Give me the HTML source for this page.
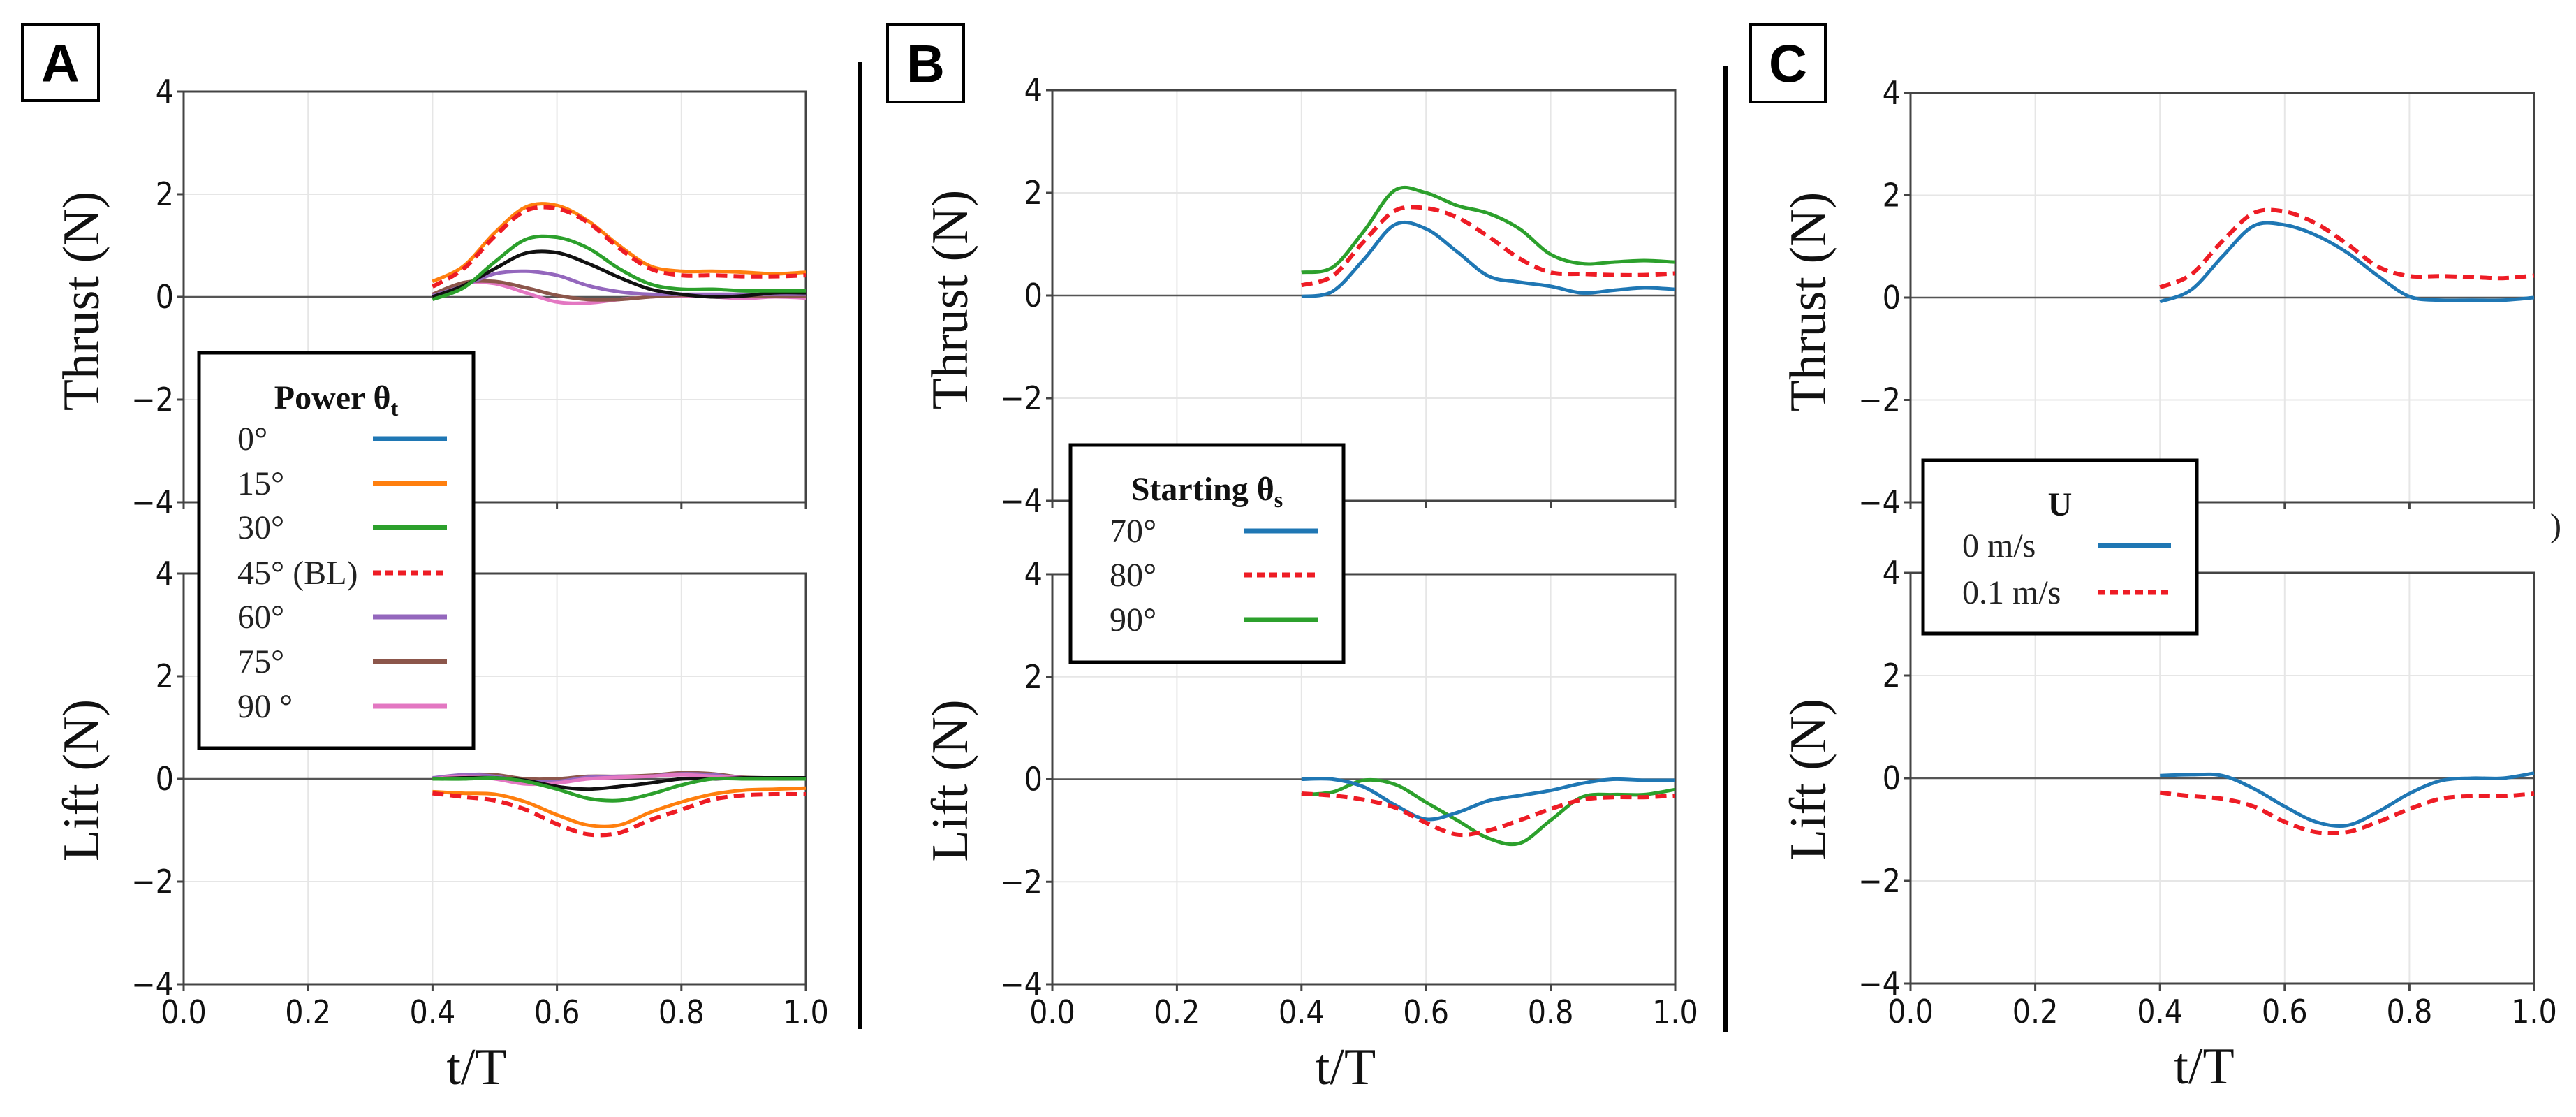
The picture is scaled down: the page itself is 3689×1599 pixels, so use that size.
<!DOCTYPE html>
<html><head><meta charset="utf-8"><style>
html,body{margin:0;padding:0;background:#fff;}
svg{display:block;}
.tick{font-family:"DejaVu Sans Condensed","Liberation Sans Narrow","DejaVu Sans",sans-serif;font-size:46px;fill:#111;}
.axlab{font-family:"Liberation Serif",serif;font-size:74px;fill:#111;}
.leg{font-family:"Liberation Serif",serif;font-size:48px;fill:#222;}
.legt{font-family:"Liberation Serif",serif;font-size:48px;font-weight:bold;fill:#111;}
.plab{font-family:"Liberation Sans",sans-serif;font-size:76px;font-weight:bold;fill:#000;}
</style></head><body>
<svg id="fig" width="3689" height="1599" viewBox="0 0 3689 1599" xmlns="http://www.w3.org/2000/svg"></svg>
<script>
// shared time samples (t/T)
const tVals = [0.40,0.45,0.50,0.55,0.60,0.65,0.70,0.75,0.80,0.85,0.90,0.95,1.00];
const xTicks = [0.0,0.2,0.4,0.6,0.8,1.0];
const xTickLabels = ["0.0","0.2","0.4","0.6","0.8","1.0"];
const yTicks = [-4,-2,0,2,4];
const yTickLabels = ["\u22124","\u22122","0","2","4"];

// Panel A thrust
const aThrust15 = [0.30,0.60,1.25,1.75,1.78,1.48,1.00,0.60,0.50,0.50,0.48,0.45,0.48];
const aThrust45 = [0.20,0.55,1.18,1.68,1.72,1.45,0.95,0.55,0.42,0.42,0.40,0.40,0.42];
const aThrust30 = [-0.05,0.18,0.68,1.12,1.16,0.95,0.55,0.25,0.15,0.15,0.12,0.12,0.12];
const aThrustBlack = [0.00,0.22,0.55,0.85,0.86,0.65,0.38,0.15,0.05,0.00,0.02,0.08,0.08];
const aThrust60 = [0.02,0.22,0.45,0.50,0.42,0.22,0.10,0.05,0.05,0.05,0.05,0.05,0.05];
const aThrust75 = [0.05,0.28,0.30,0.18,0.03,-0.05,-0.05,0.00,0.03,0.03,0.02,0.02,0.02];
const aThrust90 = [0.05,0.27,0.26,0.08,-0.10,-0.12,-0.05,0.00,0.02,0.00,-0.03,0.00,-0.02];
// Panel A lift
const aLift15 = [-0.25,-0.28,-0.30,-0.45,-0.70,-0.90,-0.90,-0.65,-0.45,-0.30,-0.22,-0.20,-0.18];
const aLift45 = [-0.28,-0.35,-0.42,-0.60,-0.88,-1.08,-1.05,-0.80,-0.60,-0.40,-0.32,-0.30,-0.30];
const aLift30 = [0.00,0.00,0.02,-0.05,-0.20,-0.38,-0.42,-0.30,-0.12,0.00,0.00,0.00,0.00];
const aLiftBlack = [0.00,0.02,0.02,-0.03,-0.15,-0.20,-0.15,-0.08,0.00,0.00,0.02,0.02,0.02];
const aLift60 = [0.02,0.08,0.05,-0.05,-0.05,0.03,0.05,0.05,0.10,0.08,0.02,0.02,0.02];
const aLift75 = [0.00,0.08,0.08,0.00,0.00,0.05,0.05,0.07,0.12,0.10,0.03,0.02,0.02];
const aLift90 = [0.00,0.05,0.00,-0.10,-0.08,0.00,0.03,0.05,0.08,0.05,0.02,0.00,0.00];
// Panel B
const bThrust90 = [0.45,0.55,1.25,2.05,2.00,1.75,1.60,1.30,0.80,0.62,0.65,0.68,0.65];
const bThrust80 = [0.20,0.38,1.05,1.65,1.70,1.52,1.15,0.72,0.45,0.42,0.40,0.40,0.43];
const bThrust70 = [-0.02,0.08,0.70,1.38,1.30,0.85,0.38,0.26,0.18,0.05,0.10,0.15,0.12];
const bLift70 = [0.00,0.00,-0.15,-0.50,-0.78,-0.65,-0.42,-0.32,-0.22,-0.08,0.00,-0.02,-0.02];
const bLift80 = [-0.28,-0.32,-0.40,-0.55,-0.85,-1.08,-1.00,-0.80,-0.58,-0.40,-0.35,-0.35,-0.32];
const bLift90 = [-0.30,-0.25,-0.02,-0.10,-0.45,-0.80,-1.15,-1.25,-0.80,-0.35,-0.30,-0.30,-0.20];
// Panel C
const cThrust01 = [0.20,0.45,1.10,1.65,1.68,1.45,1.05,0.60,0.42,0.42,0.40,0.38,0.43];
const cThrust0 = [-0.08,0.15,0.80,1.40,1.42,1.22,0.88,0.42,0.02,-0.05,-0.05,-0.05,0.00];
const cLift0 = [0.05,0.07,0.05,-0.20,-0.55,-0.85,-0.92,-0.65,-0.30,-0.05,0.00,0.00,0.10];
const cLift01 = [-0.28,-0.35,-0.40,-0.55,-0.85,-1.05,-1.05,-0.85,-0.60,-0.40,-0.35,-0.35,-0.30];

const NS="http://www.w3.org/2000/svg";
const svg=document.getElementById('fig');
function mk(tag,attrs,parent){const e=document.createElementNS(NS,tag);for(const k in attrs)e.setAttribute(k,attrs[k]);(parent||svg).appendChild(e);return e;}
function txt(s,attrs,parent){const e=mk('text',attrs,parent);e.textContent=s;return e;}

const C={blue:'#1f77b4',orange:'#ff7f0e',green:'#2ca02c',red:'#ee1c25',purple:'#9467bd',brown:'#8c564b',pink:'#e377c2',black:'#111'};

function smoothPath(pts){
  let d='M'+pts[0][0].toFixed(1)+','+pts[0][1].toFixed(1);
  for(let i=0;i<pts.length-1;i++){
    const p0=pts[i-1]||pts[i],p1=pts[i],p2=pts[i+1],p3=pts[i+2]||p2;
    const c1=[p1[0]+(p2[0]-p0[0])/6,p1[1]+(p2[1]-p0[1])/6];
    const c2=[p2[0]-(p3[0]-p1[0])/6,p2[1]-(p3[1]-p1[1])/6];
    d+=' C'+c1[0].toFixed(1)+','+c1[1].toFixed(1)+' '+c2[0].toFixed(1)+','+c2[1].toFixed(1)+' '+p2[0].toFixed(1)+','+p2[1].toFixed(1);
  }
  return d;
}

function drawAxes(g,L,R,T,B,isBottom,ylabel,name){
  const xs=v=>L+(R-L)*v, ys=v=>T+(B-T)*(4-v)/8;
  const gridG=mk('g',{},g);
  
  
  xTicks.forEach(v=>{ if(v>0&&v<1) mk('line',{x1:xs(v),x2:xs(v),y1:T,y2:B,stroke:'#e6e6e6','stroke-width':2},gridG);});
  yTicks.forEach(v=>{ if(v!==0&&v!==4&&v!==-4) mk('line',{x1:L,x2:R,y1:ys(v),y2:ys(v),stroke:'#e6e6e6','stroke-width':2},gridG);});
  const z=mk('line',{x1:L,x2:R,y1:ys(0),y2:ys(0),stroke:'#555','stroke-width':2.5},g);
  
  
  const fr=mk('rect',{x:L,y:T,width:R-L,height:B-T,fill:'none',stroke:'#444','stroke-width':3},g);
  
  
  yTicks.forEach((v,i)=>{
    mk('line',{x1:L-9,x2:L,y1:ys(v),y2:ys(v),stroke:'#444','stroke-width':3},g);
    const t=txt(yTickLabels[i],{x:L-14,y:ys(v)+16,'text-anchor':'end','class':'tick'},g);
    
    
  });
  xTicks.forEach((v,i)=>{
    mk('line',{x1:xs(v),x2:xs(v),y1:B,y2:B+10,stroke:'#444','stroke-width':3},g);
    if(isBottom){
      const t=txt(xTickLabels[i],{x:xs(v),y:B+56,'text-anchor':'middle','class':'tick'},g);
      
      
    }
  });
  const cy=(T+B)/2+(ylabel==='Lift (N)'?2:6);
  const yl=txt(ylabel,{x:0,y:0,'text-anchor':'middle','class':'axlab',transform:'translate('+(L-122)+','+cy+') rotate(-90)'},g);
  
  
  if(isBottom){
    const xl=txt('t/T',{x:(L+R)/2-26,y:B+143,'text-anchor':'middle','class':'axlab'},g);
    
    
  }
  return {xs,ys};
}

function drawSeries(g,ax,vals,color,dashed,name){
  const pts=tVals.map((t,i)=>[ax.xs(t),ax.ys(vals[i])]);
  const p=mk('path',{d:smoothPath(pts),fill:'none',stroke:color,'stroke-width':dashed?6:5,'stroke-linejoin':'round'},g);
  if(dashed){p.setAttribute('stroke-dasharray','16 9');}
  
  
}

function drawLegend(x,y,w,h,title,sub,entries,textX,lineX1,lineX2,titleY,rowYs,name){
  const g=mk('g',{});
  
  
  mk('rect',{x:x,y:y,width:w,height:h,fill:'#fff',stroke:'#000','stroke-width':5},g);
  const tt=mk('text',{x:x+w/2,y:titleY,'text-anchor':'middle','class':'legt'},g);
  tt.textContent=title;
  if(sub){const ts=mk('tspan',{'font-size':'32px',dy:'10'},tt);ts.textContent=sub;}
  
  
  entries.forEach((e,i)=>{
    const eg=mk('g',{},g);
    
    
    txt(e.label,{x:textX,y:rowYs[i]+16,'class':'leg'},eg);
    const l=mk('line',{x1:lineX1,x2:lineX2,y1:rowYs[i],y2:rowYs[i],stroke:e.color,'stroke-width':7},eg);
    if(e.dashed)l.setAttribute('stroke-dasharray','11 7');
  });
}

function panelLabel(x,y,w,h,s){
  const g=mk('g',{});
  
  
  mk('rect',{x:x,y:y,width:w,height:h,fill:'#fff',stroke:'#000','stroke-width':4},g);
  txt(s,{x:x+w/2,y:y+h/2+27,'text-anchor':'middle','class':'plab'},g);
}

// separators
[[1232,89,1473],[2471,94,1478]].forEach((s,i)=>{
  const l=mk('line',{x1:s[0],x2:s[0],y1:s[1],y2:s[2],stroke:'#000','stroke-width':6});
  
  
});

// Panel A
let g=mk('g',{});  
let ax=drawAxes(g,263,1154,131,719,false,'Thrust (N)','panel-a-thrust');
drawSeries(g,ax,aThrust15,C.orange,false,'a-thrust-15');
drawSeries(g,ax,aThrust90,C.pink,false,'a-thrust-90');
drawSeries(g,ax,aThrust75,C.brown,false,'a-thrust-75');
drawSeries(g,ax,aThrust60,C.purple,false,'a-thrust-60');
drawSeries(g,ax,aThrustBlack,C.black,false,'a-thrust-black');
drawSeries(g,ax,aThrust30,C.green,false,'a-thrust-30');
drawSeries(g,ax,aThrust45,C.red,true,'a-thrust-45');
g=mk('g',{});  
ax=drawAxes(g,263,1154,821,1409,true,'Lift (N)','panel-a-lift');
drawSeries(g,ax,aLift75,C.brown,false,'a-lift-75');
drawSeries(g,ax,aLift60,C.purple,false,'a-lift-60');
drawSeries(g,ax,aLift90,C.pink,false,'a-lift-90');
drawSeries(g,ax,aLiftBlack,C.black,false,'a-lift-black');
drawSeries(g,ax,aLift30,C.green,false,'a-lift-30');
drawSeries(g,ax,aLift15,C.orange,false,'a-lift-15');
drawSeries(g,ax,aLift45,C.red,true,'a-lift-45');

// Panel B
g=mk('g',{});  
ax=drawAxes(g,1507,2399,129,717,false,'Thrust (N)','panel-b-thrust');
drawSeries(g,ax,bThrust90,C.green,false,'b-thrust-90');
drawSeries(g,ax,bThrust70,C.blue,false,'b-thrust-70');
drawSeries(g,ax,bThrust80,C.red,true,'b-thrust-80');
g=mk('g',{});  
ax=drawAxes(g,1507,2399,822,1409,true,'Lift (N)','panel-b-lift');
drawSeries(g,ax,bLift90,C.green,false,'b-lift-90');
drawSeries(g,ax,bLift70,C.blue,false,'b-lift-70');
drawSeries(g,ax,bLift80,C.red,true,'b-lift-80');

// Panel C
g=mk('g',{});  
ax=drawAxes(g,2736,3629,133,719,false,'Thrust (N)','panel-c-thrust');
drawSeries(g,ax,cThrust0,C.blue,false,'c-thrust-0');
drawSeries(g,ax,cThrust01,C.red,true,'c-thrust-01');
g=mk('g',{});  
ax=drawAxes(g,2736,3629,820,1408,true,'Lift (N)','panel-c-lift');
drawSeries(g,ax,cLift0,C.blue,false,'c-lift-0');
drawSeries(g,ax,cLift01,C.red,true,'c-lift-01');

// Legends
drawLegend(285,505,393,566,'Power \u03B8','t',[
 {key:'0',label:'0\u00B0',color:C.blue},
 {key:'15',label:'15\u00B0',color:C.orange},
 {key:'30',label:'30\u00B0',color:C.green},
 {key:'45',label:'45\u00B0 (BL)',color:C.red,dashed:true},
 {key:'60',label:'60\u00B0',color:C.purple},
 {key:'75',label:'75\u00B0',color:C.brown},
 {key:'90',label:'90 \u00B0',color:C.pink}],
 340,534,640,585,[628,692,755,820,883,947,1011],'legend-power-angle');
drawLegend(1533,637,391,311,'Starting \u03B8','s',[
 {key:'70',label:'70\u00B0',color:C.blue},
 {key:'80',label:'80\u00B0',color:C.red,dashed:true},
 {key:'90s',label:'90\u00B0',color:C.green}],
 1589,1782,1888,716,[760,823,887],'legend-starting-angle');
drawLegend(2754,659,392,248,'U','',[
 {key:'u0',label:'0 m/s',color:C.blue},
 {key:'u01',label:'0.1 m/s',color:C.red,dashed:true}],
 2810,3004,3109,738,[781,848],'legend-velocity');

panelLabel(32,35,109,109,'A');
panelLabel(1271,35,109,111,'B');
panelLabel(2507,35,107,111,'C');
const stray=txt(')',{x:3652,y:768,'class':'leg','font-size':'34px'});


</script>
</body></html>
